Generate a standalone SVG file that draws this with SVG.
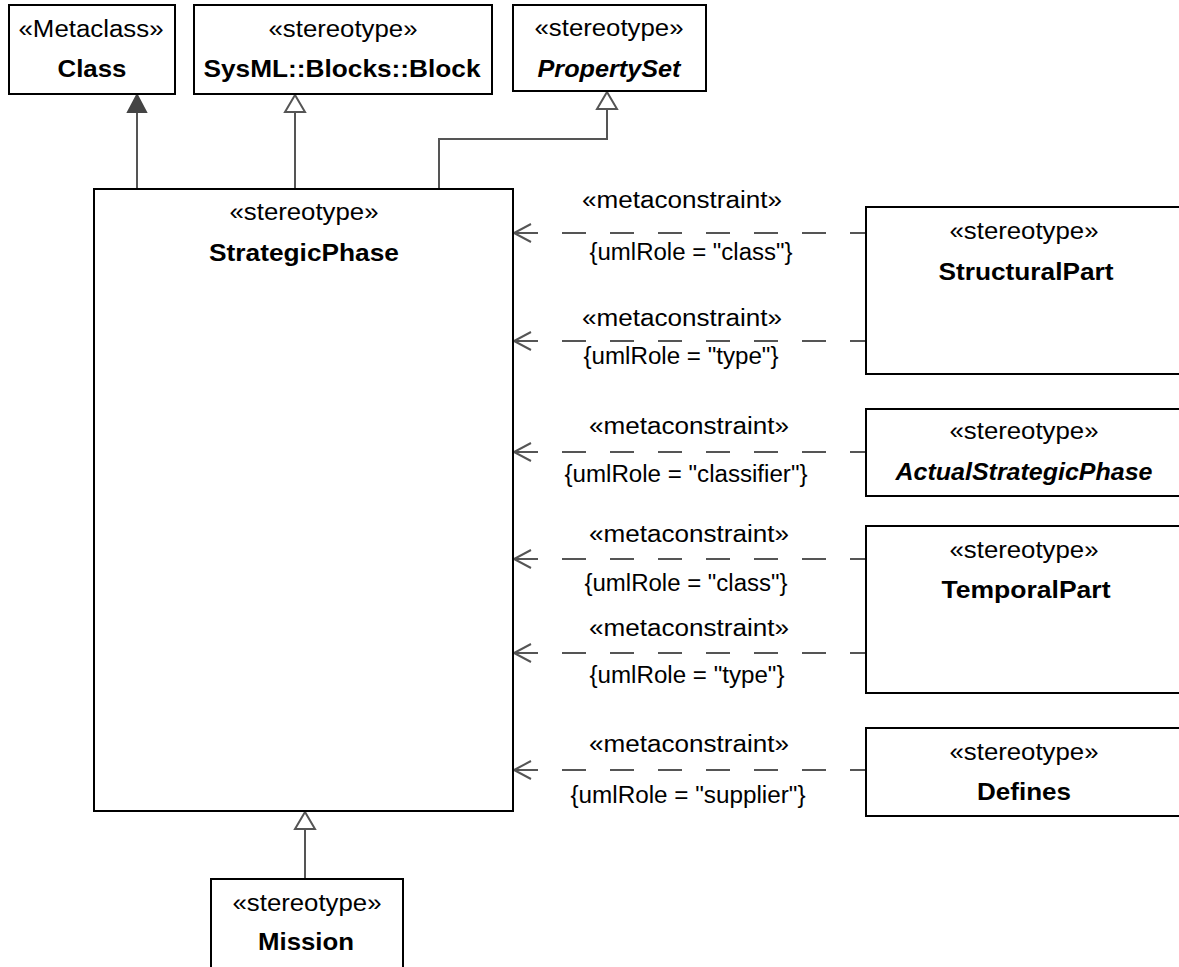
<svg xmlns="http://www.w3.org/2000/svg" width="1179" height="967" viewBox="0 0 1179 967">
<style>
.box{fill:#fff;stroke:#000;stroke-width:2}
.t{font-family:"Liberation Sans",Arial,sans-serif;font-size:23px;fill:#000;text-anchor:middle}
.b{font-weight:bold;font-size:24px}
.i{font-style:italic}
.ln{fill:none;stroke:#555;stroke-width:2}
.dash{fill:none;stroke:#555;stroke-width:2;stroke-dasharray:24 24;stroke-dashoffset:8}
.hol{fill:#fff;stroke:#555;stroke-width:2}
.fil{fill:#444;stroke:#444;stroke-width:2}
</style>
<rect width="1179" height="967" fill="#fff"/>

<g id="connectors">
  <line class="ln" x1="137" y1="112" x2="137" y2="189"/>
  <polygon class="fil" points="137,95 128,112 146,112"/>
  <line class="ln" x1="295" y1="112" x2="295" y2="189"/>
  <polygon class="hol" points="295,95 285,112 305,112"/>
  <path class="ln" d="M439,189 V139 H607 V109"/>
  <polygon class="hol" points="607,92 597,109 617,109"/>
  <line class="ln" x1="305" y1="829" x2="305" y2="879"/>
  <polygon class="hol" points="305,812 295,829 315,829"/>

  <g id="mc1">
    <path class="dash" d="M866,233 H513"/>
    <polyline class="ln" points="531,224 514,233 531,242"/>
    <text class="t" x="682" y="208" textLength="200" lengthAdjust="spacingAndGlyphs">«metaconstraint»</text>
    <text class="t" x="691" y="260" textLength="203" lengthAdjust="spacingAndGlyphs">{umlRole = "class"}</text>
  </g>
  <g id="mc2">
    <path class="dash" d="M866,341 H513"/>
    <polyline class="ln" points="531,332 514,341 531,350"/>
    <text class="t" x="682" y="326" textLength="200" lengthAdjust="spacingAndGlyphs">«metaconstraint»</text>
    <text class="t" x="681" y="364" textLength="195" lengthAdjust="spacingAndGlyphs">{umlRole = "type"}</text>
  </g>
  <g id="mc3">
    <path class="dash" d="M866,452 H513"/>
    <polyline class="ln" points="531,443 514,452 531,461"/>
    <text class="t" x="689" y="434" textLength="200" lengthAdjust="spacingAndGlyphs">«metaconstraint»</text>
    <text class="t" x="686" y="482" textLength="243" lengthAdjust="spacingAndGlyphs">{umlRole = "classifier"}</text>
  </g>
  <g id="mc4">
    <path class="dash" d="M866,559 H513"/>
    <polyline class="ln" points="531,550 514,559 531,568"/>
    <text class="t" x="689" y="542" textLength="200" lengthAdjust="spacingAndGlyphs">«metaconstraint»</text>
    <text class="t" x="686" y="591" textLength="203" lengthAdjust="spacingAndGlyphs">{umlRole = "class"}</text>
  </g>
  <g id="mc5">
    <path class="dash" d="M866,653 H513"/>
    <polyline class="ln" points="531,644 514,653 531,662"/>
    <text class="t" x="689" y="636" textLength="200" lengthAdjust="spacingAndGlyphs">«metaconstraint»</text>
    <text class="t" x="687" y="683" textLength="195" lengthAdjust="spacingAndGlyphs">{umlRole = "type"}</text>
  </g>
  <g id="mc6">
    <path class="dash" d="M866,770 H513"/>
    <polyline class="ln" points="531,761 514,770 531,779"/>
    <text class="t" x="689" y="752" textLength="200" lengthAdjust="spacingAndGlyphs">«metaconstraint»</text>
    <text class="t" x="688" y="803" textLength="235" lengthAdjust="spacingAndGlyphs">{umlRole = "supplier"}</text>
  </g>
</g>

<g id="Class">
  <rect class="box" x="9" y="5" width="166" height="89"/>
  <text class="t" x="91" y="37" textLength="145" lengthAdjust="spacingAndGlyphs">«Metaclass»</text>
  <text class="t b" x="92" y="77" textLength="69" lengthAdjust="spacingAndGlyphs">Class</text>
</g>
<g id="Block">
  <rect class="box" x="194" y="5" width="298" height="89"/>
  <text class="t" x="343" y="37" textLength="149" lengthAdjust="spacingAndGlyphs">«stereotype»</text>
  <text class="t b" x="342" y="77" textLength="277" lengthAdjust="spacingAndGlyphs">SysML::Blocks::Block</text>
</g>
<g id="PropertySet">
  <rect class="box" x="513" y="5" width="193" height="86"/>
  <text class="t" x="609" y="36" textLength="149" lengthAdjust="spacingAndGlyphs">«stereotype»</text>
  <text class="t b i" x="609" y="77" textLength="143" lengthAdjust="spacingAndGlyphs">PropertySet</text>
</g>
<g id="StrategicPhase">
  <rect class="box" x="94" y="189" width="419" height="622"/>
  <text class="t" x="304" y="220" textLength="149" lengthAdjust="spacingAndGlyphs">«stereotype»</text>
  <text class="t b" x="304" y="261" textLength="190" lengthAdjust="spacingAndGlyphs">StrategicPhase</text>
</g>
<g id="StructuralPart">
  <rect class="box" x="866" y="207" width="322" height="167"/>
  <text class="t" x="1024" y="239" textLength="149" lengthAdjust="spacingAndGlyphs">«stereotype»</text>
  <text class="t b" x="1026" y="280" textLength="175" lengthAdjust="spacingAndGlyphs">StructuralPart</text>
</g>
<g id="ActualStrategicPhase">
  <rect class="box" x="866" y="409" width="322" height="87"/>
  <text class="t" x="1024" y="439" textLength="149" lengthAdjust="spacingAndGlyphs">«stereotype»</text>
  <text class="t b i" x="1024" y="480" textLength="257" lengthAdjust="spacingAndGlyphs">ActualStrategicPhase</text>
</g>
<g id="TemporalPart">
  <rect class="box" x="866" y="526" width="322" height="167"/>
  <text class="t" x="1024" y="558" textLength="149" lengthAdjust="spacingAndGlyphs">«stereotype»</text>
  <text class="t b" x="1026" y="598" textLength="169" lengthAdjust="spacingAndGlyphs">TemporalPart</text>
</g>
<g id="Defines">
  <rect class="box" x="866" y="728" width="322" height="88"/>
  <text class="t" x="1024" y="760" textLength="149" lengthAdjust="spacingAndGlyphs">«stereotype»</text>
  <text class="t b" x="1024" y="800" textLength="94" lengthAdjust="spacingAndGlyphs">Defines</text>
</g>
<g id="Mission">
  <rect class="box" x="211" y="879" width="192" height="100"/>
  <text class="t" x="307" y="911" textLength="149" lengthAdjust="spacingAndGlyphs">«stereotype»</text>
  <text class="t b" x="306" y="950" textLength="96" lengthAdjust="spacingAndGlyphs">Mission</text>
</g>
</svg>
